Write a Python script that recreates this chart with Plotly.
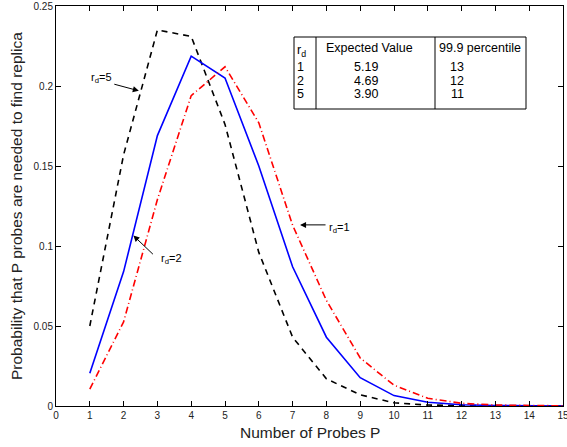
import plotly.graph_objects as go

# ---- data ----
probes = list(range(1, 16))
p_rd5 = [0.050, 0.157, 0.235, 0.231, 0.176, 0.096, 0.043, 0.017, 0.007, 0.002, 0.0006, 0.0002, 0.0001, 0.0, 0.0]
p_rd2 = [0.0205, 0.084, 0.169, 0.2187, 0.205, 0.150, 0.087, 0.043, 0.0177, 0.0065, 0.0023, 0.0008, 0.0003, 0.0001, 0.0]
p_rd1 = [0.0105, 0.0526, 0.129, 0.194, 0.212, 0.177, 0.113, 0.066, 0.030, 0.013, 0.0048, 0.0017, 0.0006, 0.0002, 0.0001]

table_rd = ["1", "2", "5"]
table_expected = ["5.19", "4.69", "3.90"]
table_pct = ["13", "12", "11"]

x_ticks = list(range(0, 16))
y_ticks = [0, 0.05, 0.1, 0.15, 0.2, 0.25]
y_ticktext = ["0", "0.05", "0.1", "0.15", "0.2", "0.25"]

W, H = 567, 447
ML, MR, MT, MB = 56, 4, 6, 41
PW, PH = W - ML - MR, H - MT - MB

def px(x):
    return (x - ML) / PW

def py(y):
    return (H - MB - y) / PH

FONT = "Liberation Sans, Arial, Helvetica, sans-serif"

fig = go.Figure()
fig.add_trace(go.Scatter(x=probes, y=p_rd5, mode="lines",
                         line=dict(color="black", width=1.6, dash="6px,5px"), name="rd=5"))
fig.add_trace(go.Scatter(x=probes, y=p_rd2, mode="lines",
                         line=dict(color="#0000ff", width=1.6), name="rd=2"))
fig.add_trace(go.Scatter(x=probes, y=p_rd1, mode="lines",
                         line=dict(color="#ff0000", width=1.6, dash="7px,3px,1px,3px"), name="rd=1"))

annots = []
# arrows (data-anchored heads)
for (hx, hy, ax, ay) in [(2.45, 0.197, -26, -7), (2.29, 0.1065, 21, 20), (7.22, 0.1132, 27, 0)]:
    annots.append(dict(x=hx, y=hy, xref="x", yref="y", text="", showarrow=True,
                       ax=ax, ay=ay, arrowhead=2, arrowsize=1.2, arrowwidth=1, arrowcolor="black"))
# labels
for (tx, ty, t) in [(101, 78, "r<sub>d</sub>=5"), (171, 259, "r<sub>d</sub>=2"), (339, 228, "r<sub>d</sub>=1")]:
    annots.append(dict(x=px(tx), y=py(ty), xref="paper", yref="paper", text=t, showarrow=False,
                       xanchor="center", yanchor="middle", font=dict(size=11, color="black", family=FONT)))

# axis titles
annots.append(dict(x=px(310), y=py(432), xref="paper", yref="paper", text="Number of Probes P", showarrow=False,
                   xanchor="center", yanchor="middle", font=dict(size=15.5, color="#222", family=FONT)))
annots.append(dict(x=px(16), y=py(206), xref="paper", yref="paper",
                   text="Probability that P probes are needed to find replica", showarrow=False, textangle=-90,
                   xanchor="center", yanchor="middle", font=dict(size=15.5, color="#222", family=FONT)))

# table
tx0, tx1, tx2, tx3 = 294, 316, 435, 526
ty0, ty1 = 37, 109
shapes = [
    dict(type="rect", xref="paper", yref="paper", x0=px(tx0), x1=px(tx3), y0=py(ty1), y1=py(ty0),
         line=dict(color="black", width=1)),
    dict(type="line", xref="paper", yref="paper", x0=px(tx1), x1=px(tx1), y0=py(ty1), y1=py(ty0),
         line=dict(color="black", width=1)),
    dict(type="line", xref="paper", yref="paper", x0=px(tx2), x1=px(tx2), y0=py(ty1), y1=py(ty0),
         line=dict(color="black", width=1)),
]
TF = dict(size=12.5, color="black", family=FONT)
annots.append(dict(x=px(295), y=py(51), xref="paper", yref="paper", text="r<sub>d</sub>", showarrow=False,
                   xanchor="left", yanchor="middle", font=TF))
annots.append(dict(x=px(369.5), y=py(48), xref="paper", yref="paper", text="Expected Value", showarrow=False,
                   xanchor="center", yanchor="middle", font=TF))
annots.append(dict(x=px(480), y=py(48), xref="paper", yref="paper", text="99.9 percentile", showarrow=False,
                   xanchor="center", yanchor="middle", font=TF))
row_y = [67, 80.5, 94]
for i in range(3):
    annots.append(dict(x=px(295), y=py(row_y[i]), xref="paper", yref="paper", text=table_rd[i], showarrow=False,
                       xanchor="left", yanchor="middle", font=TF))
    annots.append(dict(x=px(366), y=py(row_y[i]), xref="paper", yref="paper", text=table_expected[i], showarrow=False,
                       xanchor="center", yanchor="middle", font=TF))
    annots.append(dict(x=px(457), y=py(row_y[i]), xref="paper", yref="paper", text=table_pct[i], showarrow=False,
                       xanchor="center", yanchor="middle", font=TF))

axis_common = dict(showgrid=False, zeroline=False, showline=True, linecolor="black", linewidth=1,
                   mirror="ticks", ticks="inside", ticklen=5, tickcolor="black", tickwidth=1,
                   automargin=False, ticklabeloverflow="allow",
                   tickfont=dict(size=10, color="#222", family=FONT))

fig.update_layout(
    width=W, height=H,
    margin=dict(l=ML, r=MR, t=MT, b=MB, pad=0),
    paper_bgcolor="white", plot_bgcolor="white",
    showlegend=False,
    font=dict(family=FONT, color="black"),
    xaxis=dict(range=[0, 15], tickvals=x_ticks, ticktext=[str(v) for v in x_ticks], **axis_common),
    yaxis=dict(range=[0, 0.25], tickvals=y_ticks, ticktext=y_ticktext, **axis_common),
    annotations=annots,
    shapes=shapes,
)

fig.write_html("out.html", config={"displayModeBar": False},
               post_script="document.body.style.margin='0';document.body.style.overflow='hidden';")
